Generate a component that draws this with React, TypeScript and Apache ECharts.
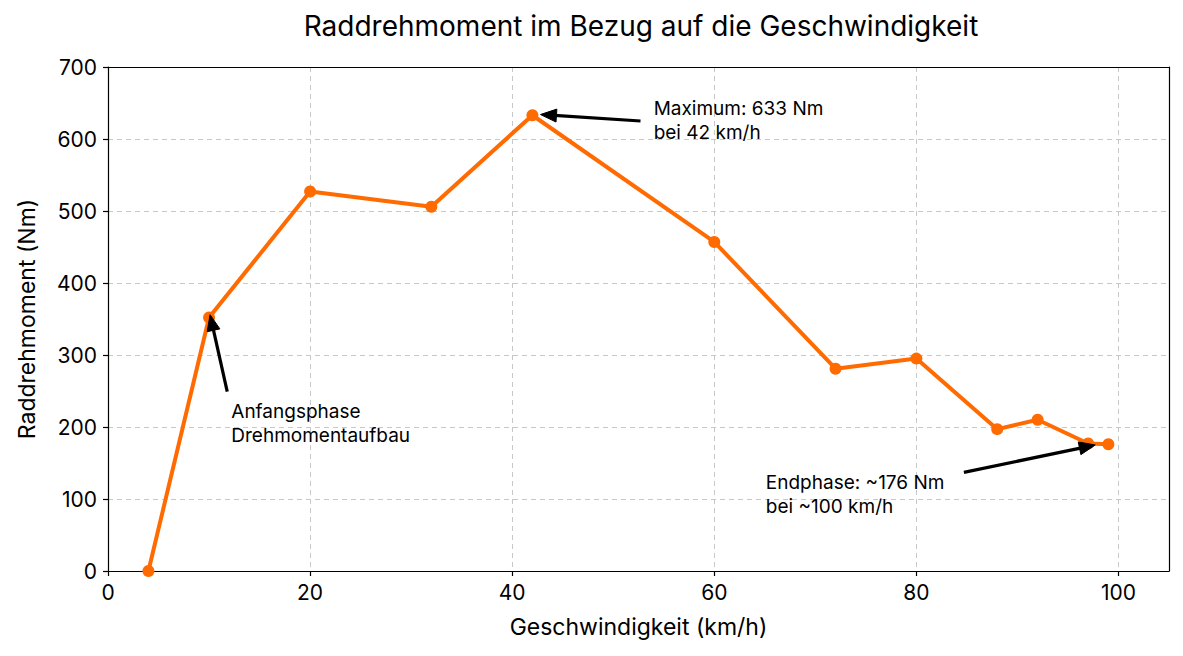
import { useEffect, useRef } from "react";
import * as echarts from "echarts";

const speeds = [4, 10, 20, 32, 42, 60, 72, 80, 88, 92, 97, 99];
const torques = [0, 352, 527, 506, 633, 457, 281, 295, 197, 210, 177, 176];
const xTickValues = [0, 20, 40, 60, 80, 100];

const annTexts = [
  "Maximum: 633 Nm\nbei 42 km/h",
  "Anfangsphase\nDrehmomentaufbau",
  "Endphase: ~176 Nm\nbei ~100 km/h",
];
const annTextAt = [
  [54, 626],
  [12.2, 205],
  [65.1, 106],
];
const annArrowFrom = [
  [52.7, 625],
  [11.8, 249],
  [84.7, 137],
];
const annArrowTo = [
  [42.8, 634],
  [10.1, 356],
  [97.7, 175],
];

const FONT = "Inter, 'Noto Sans', sans-serif";
const ORANGE = "#FF6B00";

export default function App() {
  const ref = useRef<HTMLDivElement>(null);
  useEffect(() => {
    document.body.style.margin = "0";
    if (!ref.current) return;
    const chart = echarts.init(ref.current, null, { renderer: "svg" });
    const axisCommon = {
      axisLine: { show: true, onZero: false, lineStyle: { color: "#000", width: 1.2 } },
      axisTick: { show: true, length: 5, lineStyle: { color: "#000", width: 1.2 } },
      axisLabel: { color: "#000", fontSize: 21, fontFamily: FONT, margin: 11 },
      splitLine: { show: true, lineStyle: { color: "#c8c8c8", type: [5, 4], width: 1 } },
      nameTextStyle: { color: "#000", fontSize: 23, fontFamily: FONT },
    };
    const frameAxis = {
      type: "value",
      axisLine: { show: true, onZero: false, lineStyle: { color: "#000", width: 1.2 } },
      axisTick: { show: false },
      axisLabel: { show: false },
      splitLine: { show: false },
    };
    const option: any = {
      animation: false,
      backgroundColor: "#fff",
      textStyle: { fontFamily: FONT },
      title: {
        text: "Raddrehmoment im Bezug auf die Geschwindigkeit",
        left: 636,
        textAlign: "center",
        top: 7,
        textStyle: { color: "#000", fontSize: 28, fontWeight: "normal", fontFamily: FONT },
      },
      grid: { left: 108, right: 14, top: 67, bottom: 85, containLabel: false },
      xAxis: [
        {
          ...axisCommon,
          type: "value",
          min: 0,
          max: 105,
          interval: 20,
          name: "Geschwindigkeit (km/h)",
          nameLocation: "middle",
          nameGap: 44,
          axisTick: { ...axisCommon.axisTick, customValues: xTickValues },
          axisLabel: { ...axisCommon.axisLabel, customValues: xTickValues },
        },
        { ...frameAxis, position: "top", min: 0, max: 105 },
      ],
      yAxis: [
        {
          ...axisCommon,
          type: "value",
          min: 0,
          max: 700,
          interval: 100,
          name: "Raddrehmoment (Nm)",
          nameLocation: "middle",
          nameGap: 70,
        },
        { ...frameAxis, position: "right", min: 0, max: 700 },
      ],
      series: [
        {
          type: "line",
          xAxisIndex: 0,
          yAxisIndex: 0,
          data: speeds.map((s, i) => [s, torques[i]]),
          symbol: "circle",
          symbolSize: 12,
          lineStyle: { color: ORANGE, width: 4 },
          itemStyle: { color: ORANGE },
          z: 3,
        },
      ],
    };
    chart.setOption(option);

    const px = (p: number[]) => chart.convertToPixel({ gridIndex: 0 }, p) as number[];
    const graphics: any[] = [];
    annTexts.forEach((t, i) => {
      const tp = px(annTextAt[i]);
      graphics.push({
        type: "text",
        x: tp[0],
        y: tp[1],
        z: 10,
        style: {
          text: t,
          fill: "#000",
          font: `19px ${FONT}`,
          lineHeight: 24,
          textAlign: "left",
          textVerticalAlign: "middle",
        },
      });
      const a = px(annArrowFrom[i]);
      const b = px(annArrowTo[i]);
      const dx = b[0] - a[0];
      const dy = b[1] - a[1];
      const len = Math.sqrt(dx * dx + dy * dy);
      const ux = dx / len;
      const uy = dy / len;
      const hl = 16;
      const hw = 6.5;
      const bx = b[0] - ux * hl;
      const by = b[1] - uy * hl;
      graphics.push({
        type: "line",
        z: 10,
        shape: { x1: a[0], y1: a[1], x2: bx + ux * 2, y2: by + uy * 2 },
        style: { stroke: "#000", lineWidth: 3.2 },
      });
      graphics.push({
        type: "polygon",
        z: 10,
        shape: {
          points: [
            [b[0], b[1]],
            [bx - uy * hw, by + ux * hw],
            [bx + uy * hw, by - ux * hw],
          ],
        },
        style: { fill: "#000", stroke: "#000", lineWidth: 1 },
      });
    });
    chart.setOption({ graphic: graphics });

    return () => chart.dispose();
  }, []);
  return <div ref={ref} style={{ width: 1183, height: 656 }} />;
}
